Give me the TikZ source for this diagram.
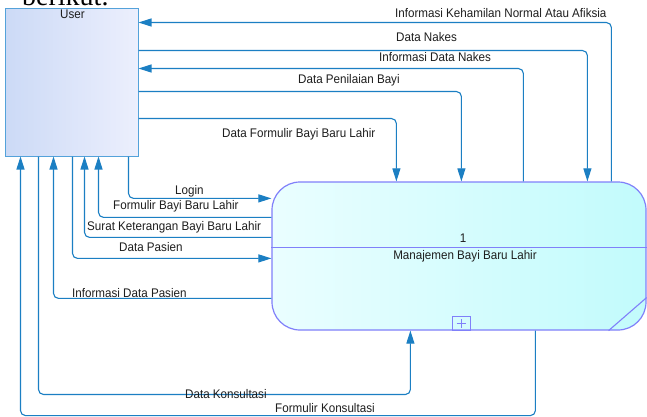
\documentclass[tikz,border=0pt]{standalone}
\usepackage{fontspec}
\setmainfont{Liberation Sans}
\newfontfamily\lblfont[FakeStretch=0.93]{Liberation Sans}
\newfontfamily\headfont{Liberation Serif}
\usetikzlibrary{arrows.meta,calc}
\definecolor{flowc}{RGB}{27,127,195}
\definecolor{userborder}{RGB}{84,162,218}
\definecolor{userleft}{RGB}{204,218,246}
\definecolor{userright}{RGB}{236,239,253}
\definecolor{procc}{RGB}{128,128,250}
\definecolor{procleft}{RGB}{234,254,255}
\definecolor{procright}{RGB}{194,251,252}
\definecolor{txt}{RGB}{30,30,30}
\begin{document}
\begin{tikzpicture}[x=1pt,y=-1pt,
  flow/.style={draw=flowc, line width=1.1pt, rounded corners=5pt,
    -{Triangle[length=13pt,width=8pt]}},
  lbl/.style={font=\lblfont\fontsize{12.5}{14}\selectfont, text=txt,
    inner sep=0pt, anchor=base west},
  userbox/.style={draw=userborder, line width=1pt, left color=userleft,
    right color=userright, minimum width=133pt, minimum height=147pt,
    inner sep=0pt},
  procbox/.style={draw=procc, line width=1.2pt, rounded corners=28pt,
    left color=procleft, right color=procright, minimum width=374pt,
    minimum height=148pt, inner sep=0pt},
  procline/.style={draw=procc, line width=1.1pt}]

\useasboundingbox[fill=white] (0,0) rectangle (647,417);

% heading cut off at the upper edge
\begin{scope}
  \clip (0,0) rectangle (647,417);
  \node[font=\headfont\fontsize{28}{30}\selectfont, anchor=base west,
    inner sep=0pt] (head) at (22,6) {berikut.};
\end{scope}

% external entity
\node[userbox] (user) at (71.5,82.5) {};
\node[lbl, anchor=base] (userlbl) at (72.5,19) {User};

% process
\node[procbox] (proc) at (459,256) {};
\draw[procline] ([yshift=-66pt]proc.north west) -- ([yshift=-66pt]proc.north east);
\node[lbl, anchor=base] (pnum) at (463,242) {1};
\node[lbl, anchor=base] (pname) at (465,259) {Manajemen Bayi Baru Lahir};
\node[draw=procc, line width=0.9pt, minimum width=18pt, minimum height=14pt,
  inner sep=0pt] (plus) at (461,323) {};
\draw[procc, line width=0.8pt] ([xshift=-4.5pt]plus.center) -- ([xshift=4.5pt]plus.center);
\draw[procc, line width=0.8pt] ([yshift=-4.5pt]plus.center) -- ([yshift=4.5pt]plus.center);
\draw[procline] ([xshift=-38pt]proc.south east) -- ([yshift=33pt]proc.south east);

% flows above
\draw[flow] ([xshift=340pt]proc.north west) |- ([yshift=-14pt]user.north east);
\draw[flow] ([yshift=-42pt]user.north east) -| ([xshift=316pt]proc.north west);
\draw[flow] ([xshift=252pt]proc.north west) |- ([yshift=-60pt]user.north east);
\draw[flow] ([yshift=-83pt]user.north east) -| ([xshift=190pt]proc.north west);
\draw[flow] ([yshift=-110pt]user.north east) -| ([xshift=125pt]proc.north west);

% flows below the entity
\draw[flow] ([xshift=124pt]user.south west) |- ([yshift=-17pt]proc.north west);
\draw[flow] ([yshift=-36pt]proc.north west) -| ([xshift=94pt]user.south west);
\draw[flow] ([yshift=-56pt]proc.north west) -| ([xshift=80pt]user.south west);
\draw[flow] ([xshift=68pt]user.south west) |- ([yshift=-77pt]proc.north west);
\draw[flow] ([yshift=-117pt]proc.north west) -| ([xshift=49pt]user.south west);
\draw[flow] ([xshift=34pt]user.south west) -- ++(0,238) -| ([xshift=139pt]proc.south west);
\draw[flow] ([xshift=264pt]proc.south west) -- ++(0,85) -| ([xshift=16pt]user.south west);

% flow labels
\node[lbl] (tKeh) at (395,18) {Informasi Kehamilan Normal Atau Afiksia};
\node[lbl] (tNakes) at (396,42) {Data Nakes};
\node[lbl] (tInfNakes) at (379,62) {Informasi Data Nakes};
\node[lbl] (tNilai) at (298,84) {Data Penilaian Bayi};
\node[lbl] (tForm) at (222,137) {Data Formulir Bayi Baru Lahir};
\node[lbl] (tLogin) at (175,194) {Login};
\node[lbl] (tFBBL) at (113,209) {Formulir Bayi Baru Lahir};
\node[lbl] (tSurat) at (87,230) {Surat Keterangan Bayi Baru Lahir};
\node[lbl] (tPasien) at (119,251) {Data Pasien};
\node[lbl] (tInfPasien) at (72,297) {Informasi Data Pasien};
\node[lbl] (tKons) at (185,398) {Data Konsultasi};
\node[lbl] (tFKons) at (275,412) {Formulir Konsultasi};
\end{tikzpicture}
\end{document}
